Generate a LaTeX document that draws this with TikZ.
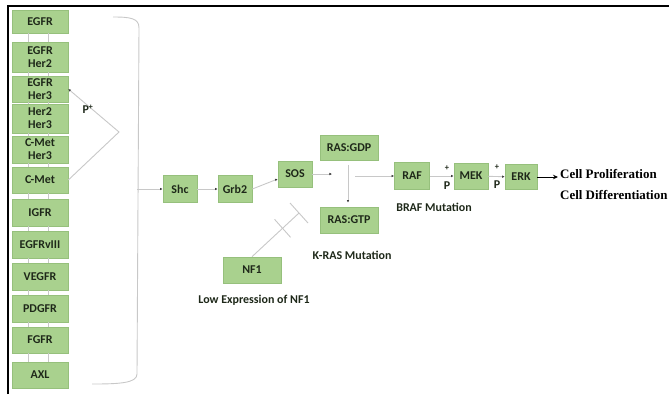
\documentclass[tikz,border=0pt]{standalone}
\usepackage{fontspec}
\setmainfont{Carlito}
\newfontfamily\timesf{Liberation Serif}
\usetikzlibrary{arrows.meta,calc}
\definecolor{boxg}{RGB}{169,209,142}
\definecolor{boxb}{RGB}{150,192,124}
\definecolor{lineg}{RGB}{200,200,200}
\definecolor{txt}{RGB}{30,40,25}
\tikzset{
  box/.style={draw=boxb, line width=0.6bp, fill=boxg, text=txt, inner sep=1bp, align=center,
    font=\bfseries\fontsize{12}{13}\selectfont},
  lbox/.style={box, minimum width=56bp},
  conn/.style={draw=lineg, line width=0.9bp},
  arr/.style={conn, -{Latex[length=2.6bp,width=2.6bp,color=black!75]}},
  lbl/.style={text=txt, font=\bfseries\fontsize{12}{13}\selectfont, inner sep=0pt},
  small/.style={text=txt, font=\bfseries\fontsize{8.5}{8.5}\selectfont, inner sep=0pt},
  outtxt/.style={anchor=west, inner sep=0pt, font=\timesf\bfseries\fontsize{13}{14}\selectfont}
}
\begin{document}
\begin{tikzpicture}[x=1bp,y=-1bp]
\useasboundingbox (0,0) rectangle (669,394);
% frame
\draw[black, line width=2bp] (8,394) -- (8,6) -- (669,6);
% left receptor column
\node[lbox, minimum height=23bp] (r1) at (40,21.5) {EGFR};
\node[lbox, minimum height=30bp] (r2) at (40,57) {EGFR\\Her2};
\node[lbox, minimum height=26bp] (r3) at (40,89) {EGFR\\Her3};
\node[lbox, minimum height=29bp] (r4) at (40,118.5) {Her2\\Her3};
\node[lbox, minimum height=27bp] (r5) at (40,149.5) {C-Met\\Her3};
\node[lbox, minimum height=26bp] (r6) at (40,180) {C-Met};
\node[lbox, minimum height=27bp] (r7) at (40,212.5) {IGFR};
\node[lbox, minimum height=27bp] (r8) at (40,244.5) {EGFRvIII};
\node[lbox, minimum height=27bp] (r9) at (40,276.5) {VEGFR};
\node[lbox, minimum height=27bp] (r10) at (40,308.5) {PDGFR};
\node[lbox, minimum height=26bp] (r11) at (40,340) {FGFR};
\node[lbox, minimum height=26bp] (r12) at (40,375) {AXL};
\foreach \a/\b in {r1/r2,r2/r3,r3/r4,r4/r5,r5/r6,r6/r7,r7/r8,r8/r9,r9/r10,r10/r11,r11/r12}{
  \draw[conn] ([xshift=-12bp]\a.south) -- ([xshift=-12bp]\b.north);
  \draw[conn] ([xshift=8bp]\a.south) -- ([xshift=8bp]\b.north);
}
% phosphorylation angle
\coordinate (apex) at (119,132);
\draw[arr] (r6.east) -- (apex) -- (r3.east);
\node[lbl] (pp) at (88,109) {P\textsuperscript{+}};
% bracket
\draw[conn] (113,17) .. controls (130,17) and (139,18) .. (139,28) -- (137,374) .. controls (137,383) and (120,384) .. (92,384);
\coordinate (brk) at (137,189);
% main chain
\node[box, minimum width=34bp, minimum height=27bp] (shc) at (180,189) {Shc};
\node[box, minimum width=34bp, minimum height=27bp] (grb) at (235,189) {Grb2};
\node[box, minimum width=34bp, minimum height=26bp] (sos) at (295,174) {SOS};
\node[box, minimum width=58bp, minimum height=25bp] (gdp) at (349,148) {RAS:GDP};
\node[box, minimum width=58bp, minimum height=26bp] (gtp) at (349,220) {RAS:GTP};
\node[box, minimum width=58bp, minimum height=26bp] (nf1) at (252,270) {NF1};
\node[box, minimum width=35bp, minimum height=27bp] (raf) at (412,176) {RAF};
\node[box, minimum width=34bp, minimum height=26bp] (mek) at (471,176) {MEK};
\node[box, minimum width=32bp, minimum height=25bp] (erk) at (521,177) {ERK};
\draw[arr] (brk) -- (shc.west);
\draw[arr] (shc) -- (grb);
\draw[arr] (grb.east) -- ([yshift=-5bp]sos.west);
\coordinate (j1) at (332,174);
\draw[arr] (sos) -- (j1);
\draw[arr] ($(gdp.south)+(-1,4)$) -- ($(gtp.north)+(-1,-4)$);
\coordinate (j3) at (355,176);
\draw[arr] (j3) -- (raf.west);
\draw[arr] (raf) -- (mek);
\draw[arr] (mek) -- (erk);
\coordinate (cp) at (558,177);
\draw[black, line width=1bp, -{Stealth[length=5bp,width=4.5bp]}] (erk.east) -- (cp);
\node[outtxt] (t1) at (560,174) {Cell Proliferation};
\node[outtxt] (t2) at (560,195) {Cell Differentiation};
% phosphate labels
\node[small] (p1a) at (447,168) {+};
\node[lbl] (p1b) at (447,186) {P};
\node[small] (p2a) at (497,167) {+};
\node[lbl] (p2b) at (497,185) {P};
% NF1 inhibition
\coordinate (nfe) at (299,213);
\coordinate (nfm) at ($(nf1.north)!0.65!(nfe)$);
\draw[conn] (nf1.north) -- (nfe);
\draw[conn] ($(nfe)+(-9,-10)$) -- ($(nfe)+(9,10)$);
\draw[conn] ($(nfm)+(-8,-9)$) -- ($(nfm)+(8,9)$);
% captions
\node[lbl] (kras) at (352,255) {K-RAS Mutation};
\node[lbl] (braf) at (434,207) {BRAF Mutation};
\node[lbl] (lown) at (254,300) {Low Expression of NF1};
\end{tikzpicture}
\end{document}
